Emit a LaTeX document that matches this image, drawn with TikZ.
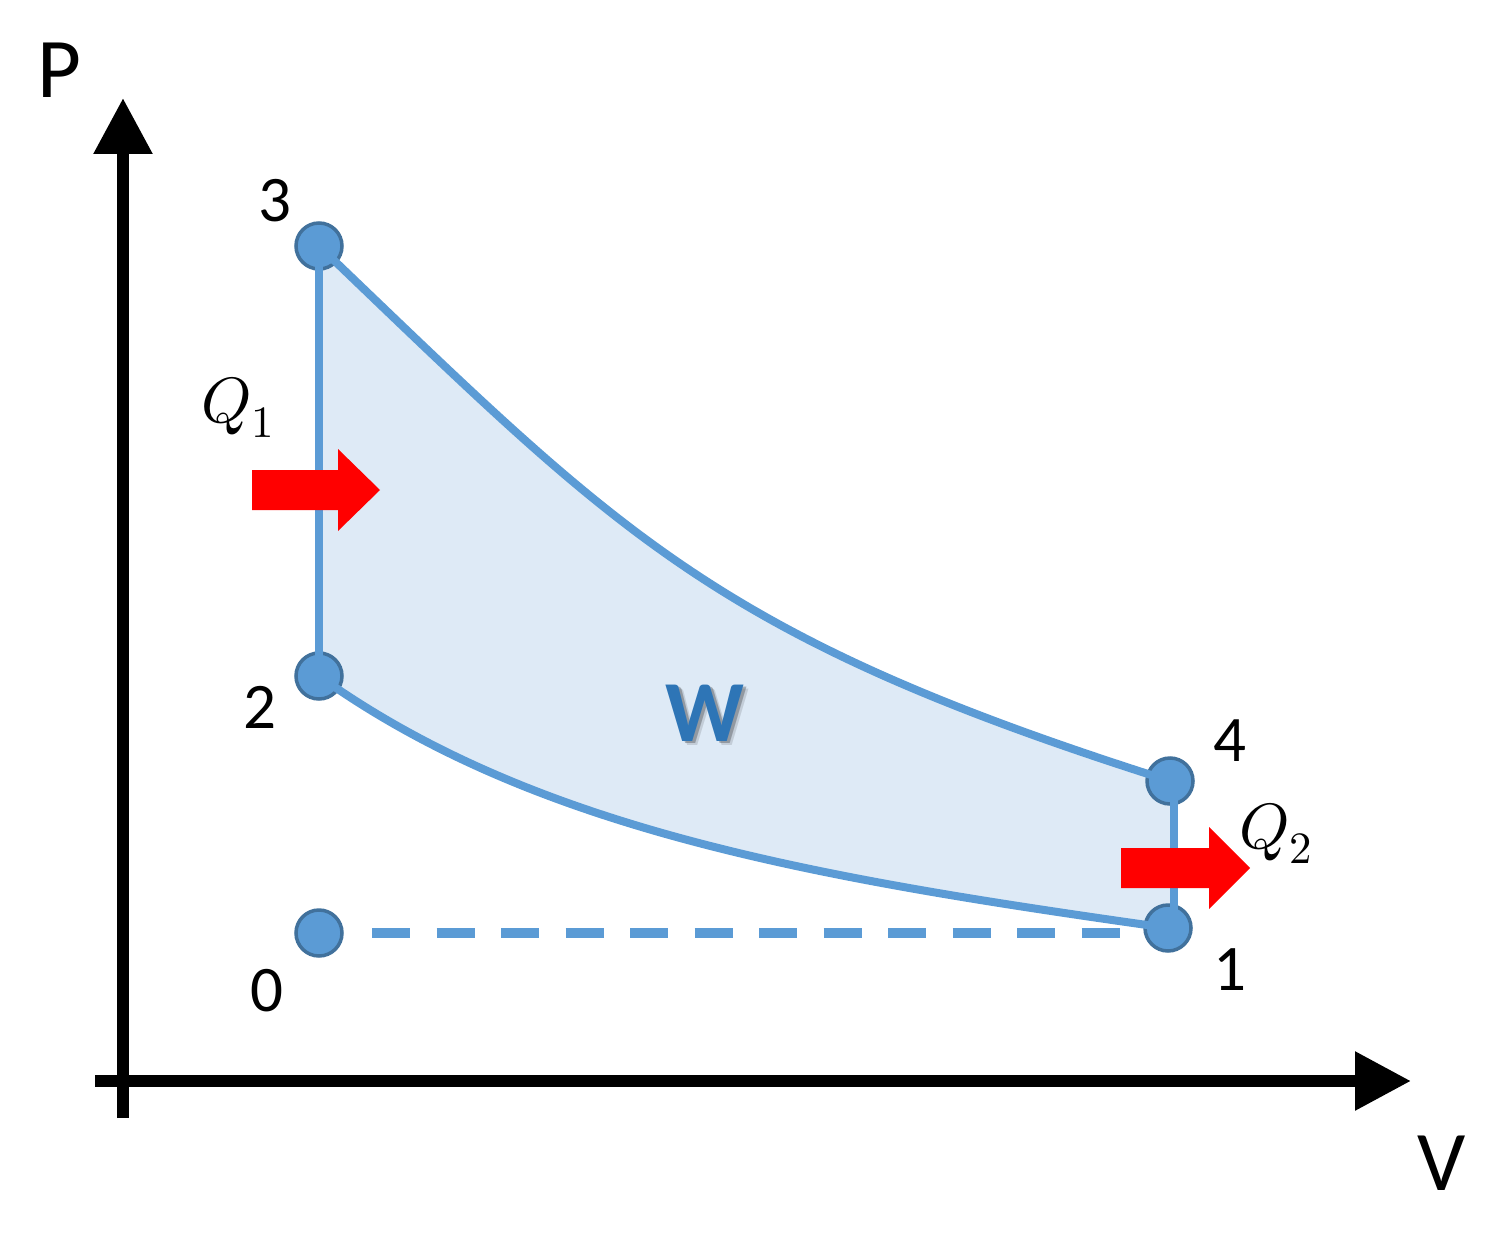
\documentclass[tikz,border=0pt]{standalone}
\usepackage{fontspec}
\usepackage{unicode-math}
\setmainfont{Carlito}
\setmathfont{Latin Modern Math}
\usetikzlibrary{arrows.meta}
\definecolor{lineblue}{HTML}{5B9BD5}
\definecolor{darkblue}{HTML}{41719C}
\definecolor{areablue}{HTML}{DEEAF6}
\definecolor{wblue}{HTML}{2E75B6}
\begin{document}
\begin{tikzpicture}[x=1pt,y=-1pt,
  vertex/.style={circle, fill=lineblue, draw=darkblue, line width=3.5pt, minimum size=46pt, inner sep=0pt},
  cycleline/.style={draw=lineblue, line width=8pt},
  axisline/.style={draw=black, line width=12pt, -{Triangle[length=56pt,width=56pt]}},
  digit/.style={font=\fontsize{65}{70}\selectfont, inner sep=0pt},
  axlabel/.style={font=\fontsize{85}{90}\selectfont, inner sep=0pt},
  heatlabel/.style={font=\fontsize{64}{70}\selectfont, inner sep=0pt, anchor=base west},
  heatarrow/.style={fill=red},
  worklabel/.style={font=\fontsize{87}{90}\selectfont\bfseries, inner sep=0pt}
]
\useasboundingbox (0,0) rectangle (1498,1233);

% state positions
\coordinate (c0) at (319,933);
\coordinate (c1) at (1168,928);
\coordinate (c2) at (319,676);
\coordinate (c3) at (319,246);
\coordinate (c4) at (1170,781);

% enclosed area (work)
\fill[areablue] (c3) .. controls (622,536) and (712,636) .. (c4)
  -- ([xshift=4pt]c4) -- ([xshift=4pt]c4 |- c1) -- (c1)
  .. controls (822,879) and (537,832) .. (c2) -- cycle;

% axes
\coordinate (ybot) at (123,1118);
\coordinate (ytop) at (123,98);
\coordinate (xleft) at (95,1081);
\coordinate (xright) at (1411,1081);
\draw[axisline] (ybot) -- (ytop);
\draw[axisline] (xleft) -- (xright);
\node[axlabel] (plabel) at (59,70) {P};
\node[axlabel] (vlabel) at (1442,1163) {V};

% states
\node[vertex] (p0) at (c0) {};
\node[vertex] (p1) at (c1) {};
\node[vertex] (p2) at (c2) {};
\node[vertex] (p3) at (c3) {};
\node[vertex] (p4) at (c4) {};

% dashed intake line
\draw[draw=lineblue, line width=10pt, dash pattern=on 38pt off 26.5pt]
  ([xshift=53pt]p0.center) -- ([xshift=-48pt]p1.center |- p0.center);

% cycle
\draw[cycleline] (p3.center) -- (p2.center);
\draw[cycleline] (p3.center) .. controls (622,536) and (712,636) .. (p4.center);
\draw[cycleline] (p2.center) .. controls (537,832) and (822,879) .. (p1.center);
\draw[cycleline] ([xshift=4pt]p4.center) -- ([xshift=4pt]p4.center |- p1.center);

% state labels
\node[digit] (l0) at (267,991) {0};
\node[digit] (l1) at (1230,970) {1};
\node[digit] (l2) at (260,707) {2};
\node[digit] (l3) at (275,201) {3};
\node[digit] (l4) at (1230,741) {4};

% heat arrows
\fill[heatarrow] (252,470) -- (338,470) -- (338,449) -- (380,490) -- (338,531) -- (338,510) -- (252,510) -- cycle;
\fill[heatarrow] (1121,848) -- (1209,848) -- (1209,827) -- (1250,868) -- (1209,909) -- (1209,888) -- (1121,888) -- cycle;
\node[heatlabel] (q1) at (201,422) {$Q_1$};
\node[heatlabel] (q2) at (1239,848) {$Q_2$};

% work label with soft shadow
\node[worklabel, text=black, opacity=0.12] (wshadow2) at (710,717) {W};
\node[worklabel, text=black, opacity=0.25] (wshadow) at (708,715) {W};
\node[worklabel, text=wblue] (wlabel) at (705,713) {W};
\end{tikzpicture}
\end{document}
